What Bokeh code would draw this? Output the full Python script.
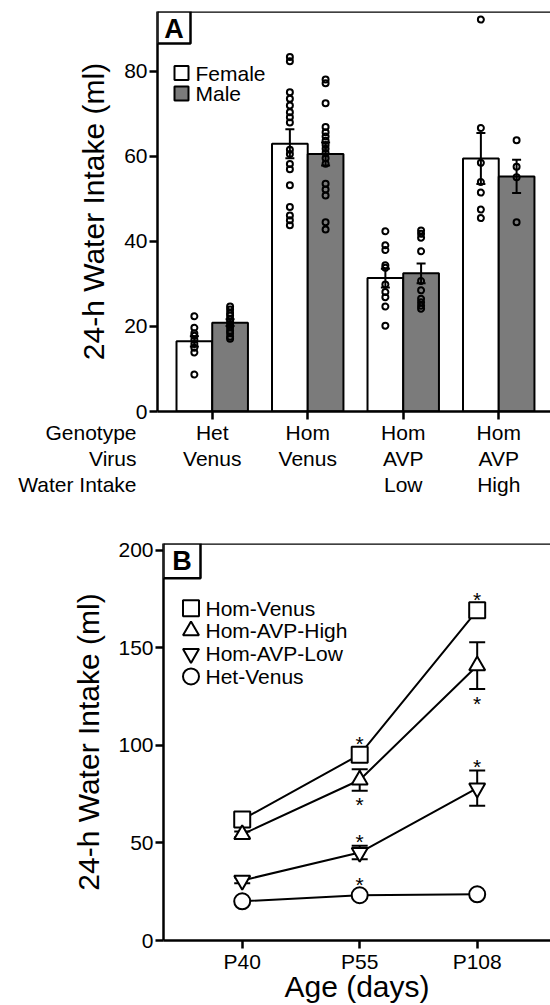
from bokeh.plotting import figure
from bokeh.models import Range1d, FixedTicker, Span, Label, BoxAnnotation, Spacer
from bokeh.layouts import column, row
from bokeh.embed import file_html
from bokeh.resources import INLINE
from bokeh.core.properties import value

FONT = "Liberation Sans"

# ---------------- Panel A data ----------------
genotype = ["Het", "Hom", "Hom", "Hom"]
virus = ["Venus", "Venus", "AVP", "AVP"]
water_intake = ["", "", "Low", "High"]
row_titles = ["Genotype", "Virus", "Water Intake"]
sex_labels = ["Female", "Male"]
female_mean = [16.5, 63.0, 31.4, 59.5]
female_sem = [1.2, 3.4, 2.2, 6.0]
male_mean = [20.9, 60.6, 32.5, 55.3]
male_sem = [0.8, 2.7, 2.3, 3.9]
female_het_venus = [22.4, 19.7, 18.4, 17.8, 16.9, 15.9, 15.0, 13.9, 8.7]
male_het_venus = [24.7, 24.0, 23.2, 22.6, 21.8, 21.2, 20.4, 19.8, 19.0, 18.4, 17.6, 17.1]
female_hom_venus = [83.4, 82.4, 75.1, 73.6, 72.0, 70.4, 69.2, 68.0, 61.6, 60.6, 58.2,
                    57.0, 53.2, 48.1, 46.1, 45.0, 43.8]
male_hom_venus = [78.1, 77.2, 72.5, 66.9, 65.7, 64.7, 63.7, 62.7, 61.8, 60.8, 59.6,
                  58.3, 53.6, 52.2, 50.8, 44.5, 42.8]
female_avp_low = [42.4, 39.1, 38.0, 34.4, 33.8, 29.9, 28.1, 26.9, 24.7, 20.2]
male_avp_low = [42.6, 41.8, 40.9, 37.7, 30.7, 28.5, 26.5, 25.7, 24.9, 24.2]
female_avp_high = [92.2, 66.7, 58.5, 54.0, 51.5, 47.5, 45.5]
male_avp_high = [63.8, 57.6, 55.1, 44.5]
female_points = [female_het_venus, female_hom_venus, female_avp_low, female_avp_high]
male_points = [male_het_venus, male_hom_venus, male_avp_low, male_avp_high]
a_yticks = [0, 20, 40, 60, 80]

# ---------------- Panel B data ----------------
ages = ["P40", "P55", "P108"]
series_names = ["Hom-Venus", "Hom-AVP-High", "Hom-AVP-Low", "Het-Venus"]
hom_venus_mean = [62.0, 95.3, 169.3]
hom_venus_sem = [1.5, 3.0, 3.0]
hom_avp_high_mean = [54.4, 82.3, 140.9]
hom_avp_high_sem = [1.5, 5.5, 12.0]
hom_avp_low_mean = [30.8, 45.1, 78.1]
hom_avp_low_sem = [1.5, 3.5, 9.0]
het_venus_mean = [20.1, 23.2, 23.7]
het_venus_sem = [1.0, 1.0, 1.0]
hom_venus_sig = ["", "*", "*"]
hom_avp_high_sig = ["", "*", "*"]
hom_avp_low_sig = ["", "*", "*"]
het_venus_sig = ["", "*", ""]
b_yticks = [0, 50, 100, 150, 200]

# styling (not data)
series_markers = ["square", "triangle", "inverted_triangle", "circle"]
series_sizes = [16, 16, 16, 16]
series_star_side = ["above", "below", "above", "above"]
MALE_GRAY = "#7b7b7b"


def style_axes(p):
    for ax in p.axis:
        ax.axis_line_width = 2.5
        ax.axis_line_color = "black"
        ax.major_tick_line_width = 2.5
        ax.major_tick_line_color = "black"
        ax.major_tick_out = 8
        ax.major_tick_in = 0
        ax.minor_tick_line_color = None
        ax.major_label_text_font = FONT
        ax.major_label_text_font_size = "21px"
        ax.major_label_text_color = "black"
        ax.axis_label_text_font = FONT
        ax.axis_label_text_font_style = "normal"
        ax.axis_label_text_font_size = "30px"
        ax.axis_label_text_color = "black"
        ax.major_label_standoff = 2
    p.xgrid.visible = False
    p.ygrid.visible = False
    p.outline_line_color = None
    p.background_fill_color = "white"
    p.border_fill_color = "white"


# =============== Panel A ===============
OVER = 4
WA, HA = 550, 420 + OVER
A_L, A_R, A_T, A_B = 157, 550, 11, 411
ax0, ax1 = 0.427, 4.542
ay0, ay1 = 0.0, 94.1


def A_x(px):
    return ax0 + (px - A_L) / (A_R - A_L) * (ax1 - ax0)


def A_y(py):
    return ay1 - (py - A_T) / (A_B - A_T) * (ay1 - ay0)


pA = figure(width=WA, height=HA, x_range=Range1d(ax0, ax1), y_range=Range1d(ay0, ay1),
            output_backend="svg", toolbar_location=None,
            min_border_left=A_L, min_border_right=WA - A_R,
            min_border_top=A_T, min_border_bottom=HA - A_B)
style_axes(pA)
pA.border_fill_alpha = 0.0
pA.yaxis.ticker = FixedTicker(ticks=a_yticks)
pA.xaxis.ticker = FixedTicker(ticks=[1, 2, 3, 4])
pA.xaxis.major_label_overrides = {1: "", 2: "", 3: "", 4: ""}
pA.xaxis.major_label_text_font_size = "0px"
pA.xaxis.major_label_standoff = 0
pA.yaxis.axis_label = "24-h Water Intake (ml)"
pA.yaxis.axis_label_standoff = 11

pos = [1, 2, 3, 4]
off, bw = 0.187, 0.374
xf = [q - off for q in pos]
xm = [q + off for q in pos]

pA.vbar(x=xf, top=female_mean, bottom=0, width=bw, fill_color="white",
        line_color="black", line_width=2)
pA.vbar(x=xm, top=male_mean, bottom=0, width=bw, fill_color=MALE_GRAY,
        line_color="black", line_width=2)

for xs, mu, se in ((xf, female_mean, female_sem), (xm, male_mean, male_sem)):
    lo = [m - s for m, s in zip(mu, se)]
    hi = [m + s for m, s in zip(mu, se)]
    pA.segment(x0=xs, y0=lo, x1=xs, y1=hi, line_color="black", line_width=2)
    pA.scatter(x=xs + xs, y=lo + hi, marker="dash", size=9, line_color="black", line_width=2)

for xs, pts in ((xf, female_points), (xm, male_points)):
    px, py = [], []
    for xc, vals in zip(xs, pts):
        px += [xc] * len(vals)
        py += vals
    pA.scatter(x=px, y=py, marker="circle", size=6, fill_color=None,
               line_color="black", line_width=2)

pA.add_layout(Span(location=ay1, dimension="width", line_color="black", line_width=2.5))

# legend A
leg_y = [72.5, 93.0]
pA.scatter(x=[A_x(181)] * 2, y=[A_y(v) for v in leg_y], marker="square", size=14,
           fill_color=["white", MALE_GRAY], line_color="black", line_width=2)
pA.text(x=[A_x(195)] * 2, y=[A_y(v) for v in leg_y], text=sex_labels,
        text_font=value(FONT), text_font_size="21px", text_baseline="middle",
        text_align="left", text_color="black")

# panel letter A
pA.add_layout(BoxAnnotation(left=A_x(157), right=A_x(190), top=A_y(11), bottom=A_y(43),
                            fill_color="white", fill_alpha=1.0, line_color="black",
                            line_width=2.5, line_alpha=1.0, level="overlay"))
pA.add_layout(Label(x=A_x(173.5), y=A_y(28), text="A", text_font=FONT,
                    text_font_size="27px", text_font_style="bold", text_align="center",
                    text_baseline="middle", text_color="black", level="overlay"))

# =============== Category label strip (same x scale as panel A) ===============
L_TOP = 420
HL = 500 - L_TOP
pL = figure(width=550, height=HL, x_range=Range1d(A_x(0), A_x(550)),
            y_range=Range1d(HL, 0), output_backend="svg", toolbar_location=None,
            min_border_left=0, min_border_right=0, min_border_top=0, min_border_bottom=0,
            margin=(-OVER, 0, 0, 0))
pL.axis.visible = False
pL.xgrid.visible = False
pL.ygrid.visible = False
pL.outline_line_color = None
pL.background_fill_alpha = 0.0
pL.border_fill_alpha = 0.0

row_py = [431.7, 458.3, 484.3]
cx, cy, ct = [], [], []
for rows_txt, ry in zip((genotype, virus, water_intake), row_py):
    for q, t in zip(pos, rows_txt):
        if t:
            cx.append(q)
            cy.append(ry - L_TOP)
            ct.append(t)
pL.text(x=cx, y=cy, text=ct, text_font=value(FONT), text_font_size="21px",
        text_align="center", text_baseline="middle", text_color="black")
pL.text(x=[A_x(136)] * 3, y=[ry - L_TOP for ry in row_py], text=row_titles,
        text_font=value(FONT), text_font_size="21px", text_align="right",
        text_baseline="middle", text_color="black")

# =============== Panel B ===============
SHIFT = 6
WB, HB = 550 - SHIFT, 505
B_L, B_R, B_T, B_B = 157, 550 - SHIFT, 43, 444
bx0, bx1 = 0.33, 3.624
by0 = 0.0
PXU = 1.97
by1 = (B_B - B_T) / PXU


def B_x(px):
    return bx0 + (px - SHIFT - B_L) / (B_R - B_L) * (bx1 - bx0)


def B_y(py):
    return by1 - (py - B_T) / (B_B - B_T) * (by1 - by0)


pB = figure(width=WB, height=HB, x_range=Range1d(bx0, bx1), y_range=Range1d(by0, by1),
            output_backend="svg", toolbar_location=None,
            min_border_left=B_L, min_border_right=WB - B_R,
            min_border_top=B_T, min_border_bottom=HB - B_B)
style_axes(pB)
pB.yaxis.ticker = FixedTicker(ticks=b_yticks)
pB.xaxis.ticker = FixedTicker(ticks=[1, 2, 3])
pB.xaxis.major_label_overrides = {i + 1: a for i, a in enumerate(ages)}
pB.xaxis.major_label_standoff = 1
pB.xaxis.axis_label = "Age (days)"
pB.xaxis.axis_label_standoff = -6
pB.yaxis.axis_label = "24-h Water Intake (ml)"
pB.yaxis.axis_label_standoff = 10

xb = [1, 2, 3]
means = [hom_venus_mean, hom_avp_high_mean, hom_avp_low_mean, het_venus_mean]
sems = [hom_venus_sem, hom_avp_high_sem, hom_avp_low_sem, het_venus_sem]
sigs = [hom_venus_sig, hom_avp_high_sig, hom_avp_low_sig, het_venus_sig]

for mu in means:
    pB.line(x=xb, y=mu, line_color="black", line_width=2)
for mu, se in zip(means, sems):
    lo = [m - s for m, s in zip(mu, se)]
    hi = [m + s for m, s in zip(mu, se)]
    pB.segment(x0=xb, y0=lo, x1=xb, y1=hi, line_color="black", line_width=2)
    pB.scatter(x=xb + xb, y=lo + hi, marker="dash", size=16, line_color="black", line_width=2)
for mu, mk, sz in zip(means, series_markers, series_sizes):
    pB.scatter(x=xb, y=mu, marker=mk, size=sz, fill_color="white", line_color="black",
               line_width=2)

# significance asterisks
sx, sy, st, soff = [], [], [], []
for mu, se, sg, side in zip(means, sems, sigs, series_star_side):
    for xi, m, s, g in zip(xb, mu, se, sg):
        if not g:
            continue
        d = max(s * PXU, 7) + 9
        sx.append(xi)
        sy.append(m)
        st.append(g)
        soff.append((-d if side == "above" else d) + 5)
pB.text(x=sx, y=sy, text=st, y_offset=soff, text_font=value(FONT), text_font_size="21px",
        text_align="center", text_baseline="middle", text_color="black")

pB.add_layout(Span(location=by1, dimension="width", line_color="black", line_width=2.5))

# legend B
leg_by = [608.3, 631.0, 654.3, 677.3]
for mk, sz, ly in zip(series_markers, series_sizes, leg_by):
    pB.scatter(x=[B_x(190.5)], y=[B_y(ly - 500)], marker=mk, size=sz, fill_color="white",
               line_color="black", line_width=2)
pB.text(x=[B_x(205)] * 4, y=[B_y(v - 500) for v in leg_by], text=series_names,
        text_font=value(FONT), text_font_size="21px", text_baseline="middle",
        text_align="left", text_color="black")

# panel letter B
pB.add_layout(BoxAnnotation(left=B_x(163), right=B_x(200), top=B_y(43), bottom=B_y(78),
                            fill_color="white", fill_alpha=1.0, line_color="black",
                            line_width=2.5, line_alpha=1.0, level="overlay"))
pB.add_layout(Label(x=B_x(181.5), y=B_y(61), text="B", text_font=FONT,
                    text_font_size="27px", text_font_style="bold", text_align="center",
                    text_baseline="middle", text_color="black", level="overlay"))

layout = column(pA, row(pL, spacing=0), row(Spacer(width=SHIFT, height=HB), pB, spacing=0),
                spacing=0)
open("out.html", "w").write(file_html(layout, INLINE))
